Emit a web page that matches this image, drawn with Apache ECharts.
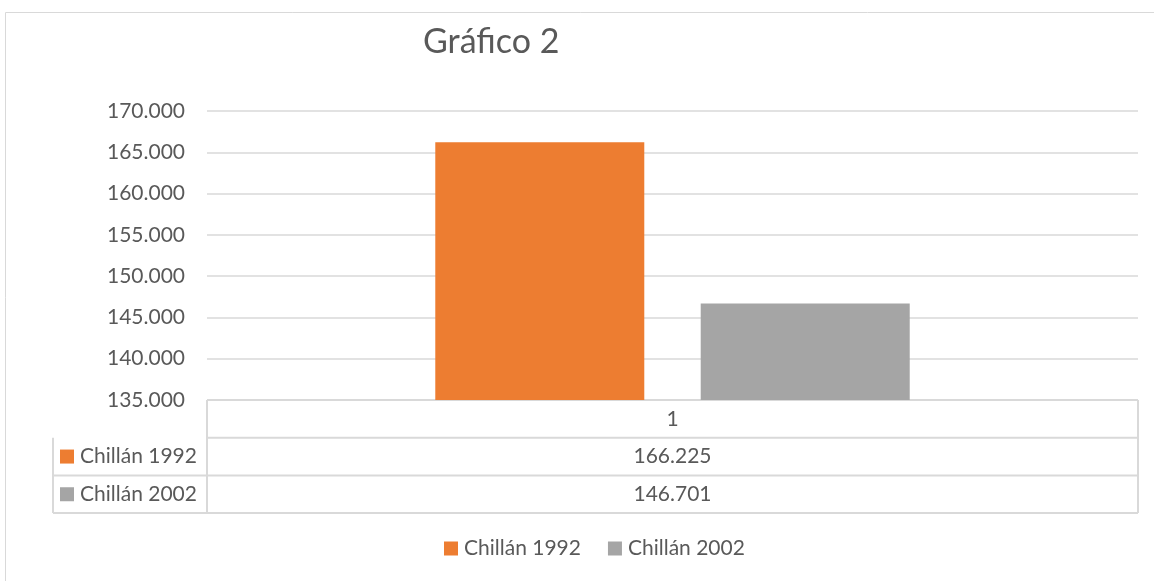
<!DOCTYPE html>
<html><head><meta charset="utf-8">
<script src="https://cdn.jsdelivr.net/npm/echarts@6/dist/echarts.min.js"></script>
<style>html,body{margin:0;padding:0;background:#fff}#c{width:1154px;height:581px}</style>
</head><body><div id="c"></div>
<script>
const categories = ['1'];
const seriesNames = ['Chillán 1992', 'Chillán 2002'];
const values1992 = [166225];
const values2002 = [146701];
const colors = ['#ED7D31', '#A5A5A5'];
const yMin = 135000, yMax = 170000, yStep = 5000;

const FONT = 'Lato, "Open Sans", sans-serif';
const FS = 21;
const TXT = '#595959';
const LINE = '#D9D9D9';
function fmt(v){ return String(v).replace(/\B(?=(\d{3})+(?!\d))/g, '.'); }

const gridL = 207, gridR = 1138, gridT = 111, gridB = 400;
const rowH = 37.7;
const tableLeft = 53;
const seriesVals = [values1992, values2002];

const chart = echarts.init(document.getElementById('c'));
const graphics = [];
graphics.push({type:'rect', shape:{x:5.5,y:12.5,width:1200,height:700}, style:{fill:'none', stroke:'#D9D9D9', lineWidth:1}, silent:true});
const lineStyle = {stroke: LINE, lineWidth: 2};
graphics.push({type:'line', shape:{x1:gridL,y1:gridB,x2:gridR,y2:gridB}, style:lineStyle});
for (let i=1;i<=3;i++){
  graphics.push({type:'line', shape:{x1:(i===1?gridL:tableLeft),y1:gridB+rowH*i,x2:gridR,y2:gridB+rowH*i}, style:lineStyle});
}
graphics.push({type:'line', shape:{x1:gridL,y1:gridB,x2:gridL,y2:gridB+rowH*3}, style:lineStyle});
graphics.push({type:'line', shape:{x1:gridR,y1:gridB,x2:gridR,y2:gridB+rowH*3}, style:lineStyle});
graphics.push({type:'line', shape:{x1:tableLeft,y1:gridB+rowH,x2:tableLeft,y2:gridB+rowH*3}, style:lineStyle});
const cx = (gridL+gridR)/2;
graphics.push({type:'text', x:cx, y:gridB+rowH/2, style:{text:categories[0], font:FS+'px '+FONT, fill:TXT, align:'center', verticalAlign:'middle'}});
seriesNames.forEach((n,i)=>{
  const yc = gridB+rowH*(i+1)+rowH/2;
  graphics.push({type:'rect', shape:{x:60,y:yc-7,width:14,height:14}, style:{fill:colors[i]}});
  graphics.push({type:'text', x:80, y:yc, style:{text:n, font:FS+'px '+FONT, fill:TXT, align:'left', verticalAlign:'middle'}});
  graphics.push({type:'text', x:cx, y:yc, style:{text:fmt(seriesVals[i][0]), font:FS+'px '+FONT, fill:TXT, align:'center', verticalAlign:'middle'}});
});

chart.setOption({
  animation:false,
  textStyle:{fontFamily:FONT},
  title:{text:'Gráfico 2', left:418, top:20, textStyle:{fontSize:34, fontWeight:'normal', color:TXT, fontFamily:FONT}},
  legend:{bottom:17, left:439, itemWidth:14, itemHeight:14, itemGap:27, icon:'rect',
    textStyle:{fontSize:FS, color:TXT, fontFamily:FONT, padding:[0,0,0,1]}, data:seriesNames},
  grid:{left:gridL, right:1154-gridR, top:gridT, bottom:581-gridB, containLabel:false},
  xAxis:{type:'category', data:categories, axisLine:{show:false}, axisTick:{show:false}, axisLabel:{show:false}},
  yAxis:{type:'value', min:yMin, max:yMax, interval:yStep,
    axisLine:{show:false}, axisTick:{show:false},
    axisLabel:{fontSize:FS, color:TXT, margin:22, formatter:v=>fmt(v), fontFamily:FONT},
    splitLine:{lineStyle:{color:LINE, width:1.5}}},
  series:[
    {name:seriesNames[0], type:'bar', data:values1992, barWidth:209, barGap:'27%', itemStyle:{color:colors[0]}},
    {name:seriesNames[1], type:'bar', data:values2002, barWidth:209, itemStyle:{color:colors[1]}}
  ],
  graphic:graphics
});
</script></body></html>
